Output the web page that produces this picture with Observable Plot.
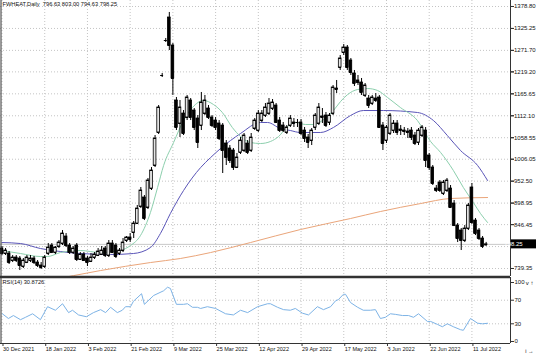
<!DOCTYPE html>
<html><head><meta charset="utf-8">
<script src="https://cdn.jsdelivr.net/npm/d3@7"></script>
<script src="https://cdn.jsdelivr.net/npm/@observablehq/plot@0.6"></script>
<style>
body{margin:0;background:#fff;}
#chart{position:relative;width:536px;height:355px;overflow:hidden;background:#fff;}
#chart svg{display:block;}
</style></head><body><div id="chart"></div>
<script>
const symbolLabel = "FWHEAT,Daily";
const open = [788.1,775.9,775.9,758.8,766.1,763.7,744.2,753.9,758.8,763.7,
753.9,746.6,744.2,775.9,795.4,778.3,793.0,800.3,817.4,795.4,
778.3,795.4,761.3,773.5,763.7,756.4,766.1,771.0,773.5,788.1,
771.0,800.3,795.4,775.9,783.2,807.6,815.0,827.2,849.1,890.6,
912.6,888.2,934.5,990.7,1071.3,1210.4,1295.8,1351.9,1283.6,1149.4,
1093.2,1117.6,1107.9,1149.4,1124.9,1105.4,1088.3,1117.6,1129.8,1107.9,
1100.5,1093.2,1088.3,1044.4,1032.2,1027.3,985.8,1022.5,1027.3,1044.4,
1027.3,1081.0,1076.1,1100.5,1112.7,1117.6,1129.8,1137.1,1100.5,1088.3,
1071.3,1088.3,1095.7,1095.7,1095.7,1076.1,1059.0,1051.7,1083.5,1093.2,
1107.9,1112.7,1095.7,1117.6,1178.6,1229.9,1266.5,1278.7,1247.0,1215.3,
1198.2,1193.3,1161.6,1154.2,1142.0,1154.2,1156.7,1088.3,1051.7,1068.8,
1076.1,1093.2,1078.5,1076.1,1073.7,1076.1,1063.9,1046.9,1063.9,1076.1,
1015.1,985.8,934.5,949.2,922.3,929.7,934.5,897.9,844.2,832.0,
807.6,836.9,937.0,856.4,832.0,812.5,796.63];
const high = [793.0,788.1,780.8,771.0,771.0,768.6,763.7,771.0,771.0,768.6,
758.8,753.9,771.0,800.3,800.3,793.0,807.6,832.0,824.7,800.3,
793.0,800.3,778.3,778.3,768.6,775.9,778.3,788.1,793.0,793.0,
807.6,807.6,800.3,788.1,812.5,817.4,824.7,854.0,893.1,937.0,
917.5,959.0,985.8,1063.9,1137.1,1215.3,1300.7,1364.2,1288.5,1156.7,
1149.4,1124.9,1161.6,1154.2,1129.8,1112.7,1168.9,1161.6,1137.1,1112.7,
1107.9,1100.5,1093.2,1051.7,1039.5,1032.2,1020.0,1059.0,1068.8,1051.7,
1068.8,1105.4,1124.9,1124.9,1142.0,1154.2,1151.8,1142.0,1107.9,1095.7,
1088.3,1112.7,1105.4,1103.0,1103.0,1083.5,1066.4,1081.0,1117.6,1142.0,
1129.8,1120.1,1117.6,1186.0,1198.2,1259.2,1286.0,1283.6,1251.9,1222.6,
1210.4,1203.1,1190.9,1161.6,1161.6,1166.4,1161.6,1095.7,1088.3,1117.6,
1100.5,1100.5,1088.3,1083.5,1081.0,1083.5,1071.3,1081.0,1088.3,1083.5,
1020.0,990.7,941.9,954.1,954.1,959.0,941.9,905.3,849.1,836.9,
844.2,898.0,946.8,861.3,836.9,817.4,803.00];
const low = [771.0,771.0,749.1,753.9,753.9,734.4,739.3,751.5,753.9,749.1,
741.7,736.9,739.3,771.0,775.9,773.5,788.1,795.4,790.5,773.5,
773.5,756.4,758.8,756.4,744.2,753.9,761.3,768.6,771.0,766.1,
766.1,775.9,763.7,771.0,778.3,802.7,802.7,812.5,846.7,885.7,
856.4,883.3,929.7,985.8,1066.4,1205.5,1290.9,1271.4,1161.6,1076.1,
1059.0,1063.9,1100.5,1100.5,1076.1,1032.2,1076.1,1112.7,1103.0,1083.5,
1076.1,1051.7,971.2,990.7,995.6,978.5,983.4,1017.6,1022.5,1017.6,
1022.5,1076.1,1071.3,1095.7,1107.9,1112.7,1124.9,1093.2,1071.3,1071.3,
1066.4,1083.5,1083.5,1083.5,1063.9,1046.9,1032.2,1039.5,1076.1,1088.3,
1093.2,1083.5,1088.3,1112.7,1166.4,1222.6,1259.2,1222.6,1210.4,1183.5,
1186.0,1161.6,1156.7,1129.8,1137.1,1144.5,1081.0,1027.3,1044.4,1063.9,
1068.8,1063.9,1063.9,1063.9,1056.6,1051.7,1039.5,1039.5,1059.0,985.8,
978.5,941.9,924.8,924.8,917.5,924.8,885.7,841.8,802.7,783.2,
802.7,832.0,846.7,819.8,807.6,788.1,794.63];
const close = [775.9,783.2,753.9,766.1,758.8,746.6,758.8,766.1,763.7,753.9,
746.6,741.7,766.1,790.5,778.3,790.5,802.7,824.7,795.4,778.3,
788.1,761.3,773.5,758.8,753.9,766.1,773.5,780.8,783.2,771.0,
800.3,778.3,768.6,783.2,802.7,815.0,810.1,849.1,885.7,929.7,
861.3,954.1,978.5,1056.6,1132.3,1210.4,1295.8,1283.6,1203.1,1083.5,
1132.3,1068.8,1156.7,1107.9,1083.5,1046.9,1144.5,1149.4,1107.9,1088.3,
1083.5,1056.6,1027.3,1010.2,1002.9,985.8,1010.2,1051.7,1063.9,1022.5,
1059.0,1100.5,1117.6,1117.6,1132.3,1142.0,1144.5,1095.7,1076.1,1076.1,
1083.5,1105.4,1093.2,1095.7,1068.8,1056.6,1046.9,1076.1,1112.7,1132.3,
1110.3,1088.3,1112.7,1181.1,1176.2,1251.9,1278.7,1229.9,1217.7,1190.9,
1193.3,1168.9,1186.0,1137.1,1156.7,1149.4,1083.5,1044.4,1083.5,1112.7,
1093.2,1071.3,1076.1,1073.7,1071.3,1059.0,1044.4,1076.1,1083.5,1002.9,
985.8,946.8,929.7,929.7,949.2,954.1,888.2,844.2,812.5,807.6,
836.9,893.1,851.6,824.7,812.5,793.0,798.25];

const dateTickIdx = [0,12,24,36,48,60,72,84,96,108,120,132];
const dateTickLabels = ["30 Dec 2021","18 Jan 2022","3 Feb 2022","21 Feb 2022","9 Mar 2022","25 Mar 2022","12 Apr 2022","29 Apr 2022","17 May 2022","3 Jun 2022","22 Jun 2022","11 Jul 2022"];
const priceGrid = [1378.80,1325.25,1271.70,1219.20,1165.65,1112.10,1058.55,1006.05,952.50,898.95,846.45,792.90,739.35];
// 792.90 is hidden behind the current-price box in the reference
const priceTickLabels = [1378.80,1325.25,1271.70,1219.20,1165.65,1112.10,1058.55,1006.05,952.50,898.95,846.45,739.35];
const rsiTicks = [100,70,30,0];
const rsiLevels = [70,30];

// moving averages (bar index, price)
const maFastIdx = [0,5.2,10.8,12.8,16.4,22,27.7,31.9,34.7,36.1,38.9,41.7,43.7,45.4,48.2,51,53.5,56.6,59.4,61.9,64.7,67,69.8,72.6,75.4,77.7,80.2,82.4,85.3,87.5,90,93.1,95.1,97.1,99.9,102.7,105.5,108.3,111.9,116.7,120.4,123.2,126.8,129.6,132.4,134.4,136.4];
const maFastVal = [783.2,775.9,768.6,768.6,778.3,783.2,778.3,780.8,788.1,795.4,819.8,876.0,937.0,990.7,1046.9,1100.5,1132.3,1149.4,1139.6,1120.1,1083.5,1061.5,1046.9,1044.4,1049.3,1061.5,1085.9,1095.7,1090.8,1090.8,1100.5,1124.9,1146.9,1164.0,1176.2,1178.6,1173.8,1156.7,1132.3,1100.5,1049.3,1022.5,978.5,937.0,900.4,873.6,851.6];
const maMidIdx = [0,5.2,10.8,16.4,22,30.5,36.9,41.7,44.5,47.3,51,55.8,58.6,61.4,67,72.6,74.6,78.2,81,83.8,89.5,93.1,97.9,101.5,107.2,116.7,121.2,125.1,128.8,133.6,136.4];
const maMidVal = [802.7,800.3,788.1,780.8,775.9,773.5,775.9,790.5,824.7,873.6,929.7,985.8,1010.2,1032.2,1068.8,1095.7,1095.7,1081.0,1076.1,1071.3,1071.3,1083.5,1112.7,1124.9,1124.9,1120.1,1100.5,1063.9,1027.3,990.7,954.1];
const maSlowIdx = [14.5,20.1,27.7,41.7,50.1,58.6,69.8,83.8,97.9,106.3,117.6,126,136.4];
const maSlowVal = [712.5,722.0,734.4,753.9,763.7,778.3,802.7,834.4,861.3,878.4,897.9,910.2,912.6];

// RSI(14) (bar index, value)
const rsiIdx = [0.1,1.8,3.2,5.2,6.6,8.6,10.8,12.8,15,17,18.7,19.8,21.5,23.7,25.7,27.7,29.1,30.5,32.4,33.8,34.7,36.1,36.9,39.2,40,42.6,45.4,46.5,47.3,49,51,52.1,53.5,54.9,55.8,57.7,60,62.8,65,67,69,71.8,74.6,75.4,77.4,79.1,81,82.4,84.4,86.1,88.6,90.3,92.3,93.7,94.5,95.9,96.5,97.9,99.9,101.5,103.5,104.9,106.3,107.7,109.1,110.5,112.5,114.2,115.6,117,119.5,120.4,122.3,123.7,125.1,126.8,128.8,129.6,131.6,133.6,135,136.4];
const rsiVal = [47,39,44,37,41,47,37,59,53,64,49,53,45,42,49,54,49,58,49,53,59,59,68,81,63,78,86,92,90,63,63,64,58,58,56,59,56,47,45,53,49,59,64,64,58,54,53,56,48,45,59,54,59,69,71,80,80,66,58,53,53,54,39,41,47,46,44,44,41,47,34,34,29,25,30,25,20,19,39,31,30,30.8726];
const rsiLast = 30.8726;

const W = 536, axisW = 26;
const xDomain = [-0.4213, 142.84];
const yDomain = [719.81, 1393.44];
const font = "'Liberation Sans', Arial, sans-serif";
const fs = 6, fsDate = 5.5, fsHead = 5.7;
const last = close.length - 1;

const bars = open.map((o, i) => ({i, o, h: high[i], l: low[i], c: close[i], up: close[i] >= o}));
const fast = maFastIdx.map((i, k) => ({i, v: maFastVal[k]}));
const mid = maMidIdx.map((i, k) => ({i, v: maMidVal[k]}));
const slow = maSlowIdx.map((i, k) => ({i, v: maSlowVal[k]}));
const rsi = rsiIdx.map((i, k) => ({i, v: rsiVal[k]}));
const hw = 0.38;
const header = `${symbolLabel}  ${open[last].toFixed(2)} ${high[last].toFixed(2)} ${low[last].toFixed(2)} ${close[last].toFixed(2)}`;

const grid = {stroke: "#c4c4c4", strokeDasharray: "1,2", strokeWidth: 1};

const main = Plot.plot({
  width: W, height: 277,
  marginLeft: 0, marginRight: axisW, marginTop: 0, marginBottom: 1,
  x: {domain: xDomain, axis: null},
  y: {domain: yDomain, axis: null},
  style: {fontFamily: font, fontSize: fs + "px", color: "#111", background: "#fff", overflow: "visible"},
  marks: [
    Plot.ruleY(priceGrid, grid),
    Plot.ruleX(dateTickIdx, grid),
    Plot.ruleY([close[last]], {stroke: "#c8c8c8", strokeWidth: 1}),
    Plot.line(slow, {x: "i", y: "v", stroke: "#eaa57a", strokeWidth: 1, clip: true, curve: "monotone-x"}),
    Plot.line(mid, {x: "i", y: "v", stroke: "#5a55b8", strokeWidth: 1, clip: true, curve: "monotone-x"}),
    Plot.line(fast, {x: "i", y: "v", stroke: "#8ccfad", strokeWidth: 1, clip: true, curve: "monotone-x"}),
    Plot.ruleX(bars, {x: "i", y1: "l", y2: "h", stroke: "#000", strokeWidth: 1}),
    Plot.rect(bars, {x1: d => d.i - hw, x2: d => d.i + hw, y1: "o", y2: "c", fill: d => d.up ? "#e4e4e4" : "#000", stroke: "#000", strokeWidth: 0.8}),
    Plot.ruleY(bars, {y: "o", x1: d => d.i - hw, x2: d => d.i + hw, stroke: "#000", strokeWidth: 1}),
    Plot.ruleY(bars, {y: "c", x1: d => d.i - hw, x2: d => d.i + hw, stroke: "#000", strokeWidth: 1}),
    Plot.axisY({anchor: "right", ticks: priceGrid, tickFormat: () => "", tickSize: 3, stroke: "#333"}),
    Plot.axisY({anchor: "right", ticks: priceTickLabels, tickFormat: d => d.toFixed(2), tickSize: 3, tickPadding: 0.5, fontSize: fs, stroke: "#333"}),
    Plot.ruleX([xDomain[1]], {stroke: "#333", strokeWidth: 1}),
    Plot.ruleX([xDomain[0]], {stroke: "#333", strokeWidth: 1, dx: 0.5}),
    Plot.ruleY([yDomain[0]], {stroke: "#333", strokeWidth: 1.5}),
    Plot.text([header], {frameAnchor: "top-left", dx: 2, dy: 1.5, lineAnchor: "top", fontSize: fsHead, fill: "#111"})
  ]
});

// current price marker on the right scale, positioned through Plot's y scale
(function () {
  const sy = main.scale("y");
  const py = sy.apply(close[last]);
  const svg = d3.select(main);
  svg.append("rect").attr("x", W - axisW + 1).attr("y", py - 4.5).attr("width", axisW - 1).attr("height", 9).attr("fill", "#000");
  svg.append("text").attr("x", W - axisW + 3.5).attr("y", py).attr("dy", "0.35em")
    .attr("fill", "#fff").attr("font-size", fs).attr("font-family", font)
    .style("font-size", fs + "px").text(close[last].toFixed(2));
})();

const rsiPlot = Plot.plot({
  width: W, height: 78,
  marginLeft: 0, marginRight: axisW, marginTop: 0, marginBottom: 12,
  x: {domain: xDomain, axis: null},
  y: {domain: [-3.4, 108.5], axis: null},
  style: {fontFamily: font, fontSize: fs + "px", color: "#111", background: "#fff", overflow: "visible"},
  marks: [
    Plot.ruleY(rsiLevels, grid),
    Plot.ruleX(dateTickIdx, grid),
    Plot.line(rsi, {x: "i", y: "v", stroke: "#7db3e6", strokeWidth: 1}),
    Plot.axisY({anchor: "right", ticks: rsiTicks, tickFormat: d => String(d), tickSize: 3, tickPadding: 1, fontSize: fs, stroke: "#333"}),
    Plot.axisX({anchor: "bottom", ticks: dateTickIdx, tickFormat: d => dateTickLabels[dateTickIdx.indexOf(d)], tickSize: 3, tickPadding: 1, textAnchor: "start", dx: 1, fontSize: fsDate, stroke: "#333"}),
    Plot.ruleX([xDomain[1]], {stroke: "#333", strokeWidth: 1}),
    Plot.ruleX([xDomain[0]], {stroke: "#333", strokeWidth: 1, dx: 0.5}),
    Plot.ruleY([-3.4], {stroke: "#333", strokeWidth: 1}),
    Plot.ruleY([108.5], {stroke: "#333", strokeWidth: 1.5}),
    Plot.text([`RSI(14) ${rsiLast.toFixed(4)}`], {frameAnchor: "top-left", dx: 2, dy: 2, lineAnchor: "top", fontSize: fsHead, fill: "#111"})
  ]
});

const root = document.getElementById("chart");
root.appendChild(main);
root.appendChild(rsiPlot);
</script></body></html>
